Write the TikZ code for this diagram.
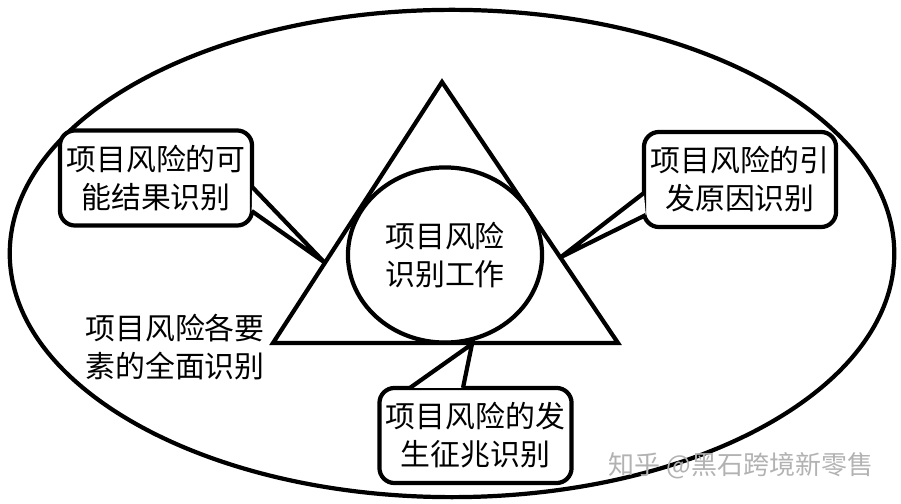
\documentclass[tikz,border=0pt]{standalone}
\usepackage{fontspec}
\setmainfont{Noto Sans CJK SC}
\usepackage{tikz}
\usetikzlibrary{calc}
\usetikzlibrary{shapes.geometric}
\usetikzlibrary{positioning}

\tikzset{
	callout/.style={draw, fill=white, rounded corners=0.15cm, align=center,
		minimum width=1.92cm, minimum height=0.95cm, inner sep=0pt},
	pointer/.style={draw, line join=miter},
	txt/.style={font=\fontsize{8.5pt}{10.8pt}\selectfont}
}

\begin{document}
\begin{tikzpicture}[x=0.01cm, y=-0.01cm, line width=1.2pt, every node/.append style={txt}]
	\useasboundingbox (0,0) rectangle (901,504);

	\node[draw, ellipse, minimum width=8.84cm, minimum height=4.87cm] (outer) at (452,253.5) {};

	\coordinate (top) at (442,82);
	\coordinate (bl) at (273,343);
	\coordinate (br) at (618,343);
	\draw[line join=miter] (top) -- (bl) -- (br) -- cycle;

	\node[draw, ellipse, minimum width=1.94cm, minimum height=1.75cm, inner sep=0pt, align=center] (work) at (445,255) {项目风险\\识别工作};

	\begin{scope}[every node/.style={callout, txt}]
		\node (l) at (156,178) {项目风险的可\\能结果识别};
		\node (r) at (740,179.5) {项目风险的引\\发原因识别};
		\node (b) at (475.5,435.5) {项目风险的发\\生征兆识别};
	\end{scope}

	\coordinate (lt) at (324,262);
	\coordinate (rt) at (561,257);
	\coordinate (bt) at (472,344);

	\fill[white] ($(l.east)+(-2,9)$) -- (lt) -- ($(l.east)+(-2.5,33)$) -- cycle;
	\draw[pointer] ($(l.east)+(-2,9)$) -- (lt) -- ($(l.east)+(-2.5,33)$);
	\fill[white] ($(r.west)+(2,13.5)$) -- (rt) -- ($(r.west)+(4,35.5)$) -- cycle;
	\draw[pointer] ($(r.west)+(2,13.5)$) -- (rt) -- ($(r.west)+(4,35.5)$);
	\fill[white] ($(b.north)+(-65.5,2)$) -- (bt) -- ($(b.north)+(-12.5,2)$) -- cycle;
	\draw[pointer] ($(b.north)+(-65.5,2)$) -- (bt) -- ($(b.north)+(-12.5,2)$);

	\node[align=left] (all) at (175,347) {项目风险各要\\素的全面识别};

	\node[text=black!30, font=\fontsize{7.4pt}{9pt}\selectfont] (mark) at (741,466) {知乎 @黑石跨境新零售};
\end{tikzpicture}
\end{document}
